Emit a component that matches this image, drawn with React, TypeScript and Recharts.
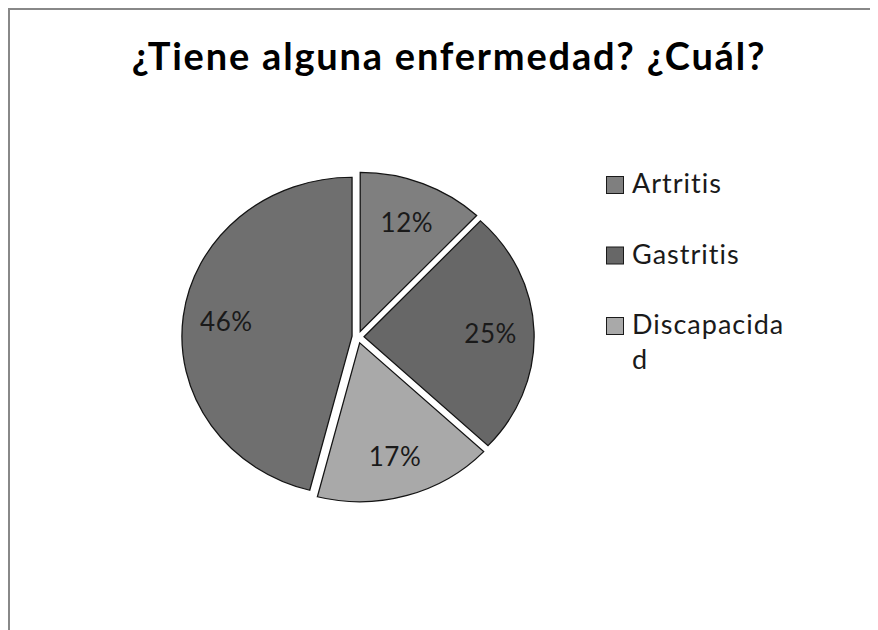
import { PieChart, Pie, Cell, Sector } from "recharts"

const categories = ["Artritis", "Gastritis", "Discapacidad", "Ninguna"]
const percentages = [12, 25, 17, 46]
const sliceColors = ["#7f7f7f", "#676767", "#a9a9a9", "#6f6f6f"]
// the legend in the original only lists the first three categories
const legendCount = 3
const title = "¿Tiene alguna enfermedad? ¿Cuál?"

const data = categories.map((name, i) => ({ name, value: percentages[i] }))

const RAD = Math.PI / 180
const EXPLODE = 6
const X_STRETCH = 1.07
const FONT = "Lato, 'Open Sans', sans-serif"
const noLig = { fontVariantLigatures: "none" as const }

function ExplodedSector(props: any) {
  const { cx, cy, midAngle } = props
  const dx = EXPLODE * Math.cos(-midAngle * RAD)
  const dy = EXPLODE * Math.sin(-midAngle * RAD)
  return (
    <g transform={`translate(${cx + dx} ${cy + dy}) scale(${X_STRETCH} 1) translate(${-cx} ${-cy})`}>
      <Sector {...props} />
    </g>
  )
}

const renderLabel = ({ cx, cy, midAngle, value }: any) => {
  const r = 118 + EXPLODE
  const x = cx + r * Math.cos(-midAngle * RAD) * X_STRETCH
  const y = cy + r * Math.sin(-midAngle * RAD)
  return (
    <text
      x={x}
      y={y}
      textAnchor="middle"
      dominantBaseline="central"
      fontSize={26}
      fontFamily={FONT}
      fill="#1a1a1a"
      letterSpacing={0.5}
      style={noLig}
    >
      {value}%
    </text>
  )
}

// wraps a legend name into chunks like the narrow legend box does
function wrapName(name: string, max = 11) {
  const out: string[] = []
  for (let i = 0; i < name.length; i += max) out.push(name.slice(i, i + max))
  return out
}

function PieLegend() {
  return (
    <g fontFamily={FONT} fontSize={27} fill="#1a1a1a" letterSpacing={1} style={noLig}>
      {categories.slice(0, legendCount).map((name, i) => {
        const top = 166 + i * 70.5
        return (
          <g key={name}>
            <rect x={596.5} y={top + 0.5} width={17} height={17} fill={sliceColors[i]} stroke="#1a1a1a" strokeWidth={1} />
            {wrapName(name).map((line, j) => (
              <text key={j} x={622} y={top + 17 + j * 35}>
                {line}
              </text>
            ))}
          </g>
        )
      })}
    </g>
  )
}

export default function App() {
  return (
    <div
      style={{
        width: 870,
        height: 622,
        boxSizing: "border-box",
        borderTop: "2px solid #888",
        borderLeft: "2px solid #888",
        background: "#fff",
      }}
    >
      <PieChart width={868} height={620} margin={{ top: 0, right: 0, bottom: 0, left: 0 }}>
        <text
          x={439}
          y={60}
          textAnchor="middle"
          fontSize={38}
          fontWeight="bold"
          fontFamily={FONT}
          fill="#000"
          letterSpacing={1.8}
          style={noLig}
        >
          {title}
        </text>
        <Pie
          data={data}
          dataKey="value"
          nameKey="name"
          cx={348}
          cy={327}
          outerRadius={159}
          startAngle={90}
          endAngle={-270}
          stroke="#141414"
          strokeWidth={1.2}
          shape={ExplodedSector}
          label={renderLabel}
          labelLine={false}
          isAnimationActive={false}
        >
          {data.map((d, i) => (
            <Cell key={d.name} fill={sliceColors[i]} />
          ))}
        </Pie>
        <PieLegend />
      </PieChart>
    </div>
  )
}
